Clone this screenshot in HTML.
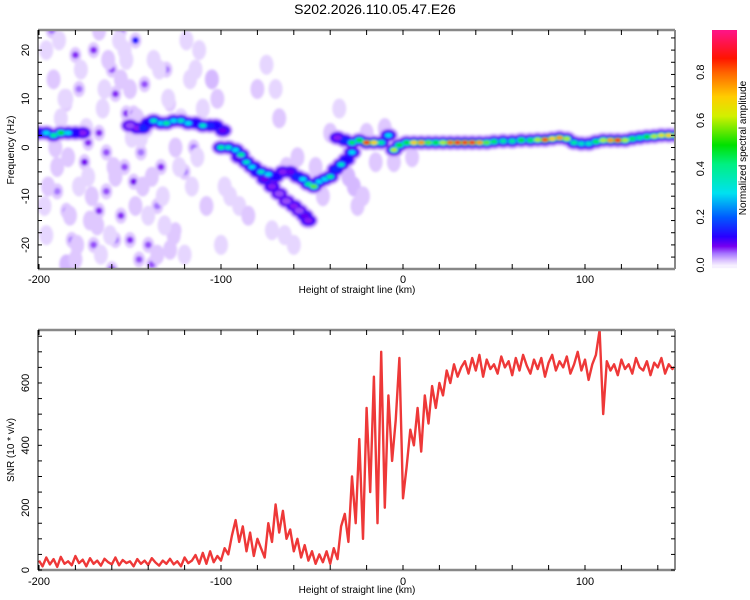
<!DOCTYPE html>
<html><head><meta charset="utf-8"><style>
body{margin:0;background:#fff;font-family:"Liberation Sans",sans-serif}
svg{display:block}
</style></head><body>
<svg id="fig" width="750" height="600" xmlns="http://www.w3.org/2000/svg" font-family="Liberation Sans, sans-serif">
<defs>
<filter id="blur" x="-20%" y="-20%" width="140%" height="140%"><feGaussianBlur stdDeviation="1.3"/></filter>
<clipPath id="clipTop"><rect x="38" y="30" width="637" height="239"/></clipPath>
<clipPath id="clipBot"><rect x="38" y="330" width="637" height="240"/></clipPath>
</defs>
<text x="375" y="14" font-size="14" text-anchor="middle">S202.2026.110.05.47.E26</text>
<g id="topPanel"></g>
<g id="botPanel"></g>
<g id="cbar"></g>
</svg>
<script>
// ---------- data ----------
const xTicks=[-200,-100,0,100];
const freqTicks=[-20,-10,0,10,20];
const snrTicks=[0,200,400,600];
const cbTicks=[0.0,0.2,0.4,0.6,0.8];
const snrStart=-200, snrStep=2;
const snrValues=[30,12,40,18,35,10,42,20,28,15,45,22,33,12,38,20,30,14,36,25,18,40,15,32,22,28,12,35,20,30,16,38,24,14,30,20,36,18,28,12,40,22,30,48,20,
55,20,60,25,45,
30,70,50,110,160,
90,140,60,120,45,100,70,40,
150,90,210,120,190,100,
130,60,100,40,80,30,60,20,50,
25,60,20,70,35,
140,180,90,
300,150,420,100,520,250,620,150,700,200,560,350,
480,680,230,
330,450,400,520,380,560,470,590,520,600,
560,640,600,660,620,
650,670,630,680,640,690,620,675,645,660,630,685,650,670,625,680,640,690,655,630,675,645,680,620,665,690,640,670,650,685,630,660,700,640,675,610,660,690,770,500,670,640,660,625,675,645,660,630,680,650,640,670,625,665,650,680,630,660,645,655];
const ridgeX=[-200,-196,-192,-188,-184,-180,-176,-150,-146,-143,-140,-137,-133,-130,-126,-122,-118,-114,-110,-106,-103,-99,
-100,-96,-92,-89,-86,-83,-80,-76,-72,-68,-64,-60,-57,-54,-52,
-90,-86,-82,-78,-74,-70,-66,-62,-58,-55,-52,-49,-46,-43,-40,-37,-34,-31,-28,
-36,-32,-28,-24,-20,-16,-12,-8,-5,-2,2,6,10,14,18,22,26,30,34,38,42,46,50,55,60,65,70,74,78,82,86,90,94,98,102,106,110,114,118,122,126,130,134,138,142,146,150];
const ridgeF=[3,3,2.5,3,3,3,3,4.5,4,4,5,5.5,5,5,5.5,5.5,5,5,4.5,4.5,4.5,3.5,
0,0,-0.5,-1.5,-3,-4,-5,-6.5,-8,-9.5,-11,-12,-13,-14,-15,
-2,-3,-4,-5,-5.5,-6,-5,-5,-6,-6.5,-7.5,-8,-7,-6.5,-6,-4.5,-3.5,-2.5,-1,
2,1.5,1,1.5,1,1,1,2.5,-0.5,0.5,1,1,1,1,1,1,1,1,1,1,1,1,1.2,1.3,1.3,1.5,1.5,1.6,1.6,1.8,2,1.8,1,0.8,0.8,1.2,1.5,1.5,1.5,1.5,1.8,2,2.2,2.3,2.5,2.5,2.5];
const ridgeA=[0.2,0.3,0.4,0.5,0.3,0.2,0.12,0.1,0.12,0.25,0.2,0.35,0.3,0.4,0.3,0.35,0.3,0.2,0.35,0.25,0.2,0.15,
0.4,0.35,0.3,0.4,0.35,0.3,0.2,0.15,0.12,0.1,0.1,0.12,0.1,0.15,0.12,
0.15,0.3,0.25,0.35,0.3,0.2,0.12,0.15,0.25,0.3,0.4,0.55,0.3,0.3,0.4,0.25,0.35,0.2,0.3,
0.12,0.25,0.45,0.5,0.85,0.7,0.4,0.3,0.6,0.5,0.5,0.7,0.75,0.55,0.5,0.6,0.8,0.88,0.85,0.88,0.75,0.55,0.45,0.4,0.4,0.5,0.45,0.6,0.82,0.7,0.75,0.6,0.4,0.35,0.35,0.45,0.6,0.75,0.85,0.6,0.45,0.4,0.5,0.6,0.65,0.7,0.6];
const noiseX=[-147,-185,-170,-180,-160,-158,-130,-175,-173,-163,-167,-148,-133,-167,-163,-155,-150,-145,-160,-140,-170,-185,-190,-153,-144,-152,-148,-128,-125,-135,-178,-193,-155,-142,-120,-115,-105,-182,-158,-138,-185,
-196,-192,-188,-184,-178,-172,-166,-162,-156,-150,-144,-138,-132,-126,-120,-114,-110,-196,-190,-186,-180,-174,-168,-164,-158,-152,-146,-140,-134,-128,-122,-116,-112,-195,-189,-183,-177,-171,-165,-159,-153,-147,-141,-135,-129,-123,-117,-197,-191,-185,-179,-173,-167,-161,-155,-149,-143,-137,-131,-125,-119,-113,
-75,-70,-68,-72,-60,-90,-100,-95,-65,-25,-27,-35,-40,-20,-10,-108,-102,-98,-85,-80,-64,-58,-48,-44,-30,-22,-15,-5,5];
const noiseF=[22,9,20,19,16,11,16,-3,1,-1,3,-7,-4,-13,-9,-14,-19,-23,-25,-20,-20,-13,-9,-4,-1,7,7,9,-17,-12,12,24,24,13,-5,0,14,-19,-19,-24,-24,
20,14,6,-2,-8,-15,-22,18,22,12,2,-6,-10,-18,-22,16,8,-18,-4,10,-23,4,-16,12,-6,18,6,-14,16,-21,6,-8,20,-8,22,-14,16,-10,8,-4,20,-12,4,-22,10,-4,14,-12,0,10,-20,-6,24,-18,14,2,-8,18,-16,0,22,-2,
17,12,6,-17,-20,-12,-20,-10,-18,-12,-8,8,3,3,4,-12,10,-8,-14,12,-4,-2,-4,-10,-6,-10,-3,-3,-2];
const noiseA=[0.13,0.06,0.07,0.07,0.06,0.07,0.05,0.08,0.07,0.06,0.07,0.08,0.07,0.07,0.06,0.07,0.07,0.06,0.07,0.06,0.06,0.05,0.05,0.06,0.05,0.07,0.06,0.05,0.05,0.05,0.05,0.05,0.06,0.06,0.05,0.05,0.04,0.05,0.05,0.06,0.04,
0.02,0.03,0.02,0.03,0.02,0.03,0.02,0.03,0.02,0.03,0.02,0.03,0.02,0.03,0.02,0.02,0.02,0.02,0.03,0.02,0.03,0.02,0.03,0.02,0.03,0.02,0.03,0.02,0.02,0.03,0.02,0.02,0.02,0.03,0.02,0.03,0.02,0.03,0.02,0.03,0.02,0.03,0.02,0.03,0.02,0.02,0.02,0.02,0.03,0.02,0.03,0.02,0.03,0.02,0.03,0.02,0.03,0.02,0.02,0.03,0.02,0.02,
0.02,0.02,0.03,0.02,0.02,0.02,0.02,0.02,0.02,0.03,0.04,0.02,0.03,0.03,0.03,0.03,0.03,0.02,0.03,0.03,0.03,0.03,0.03,0.03,0.04,0.03,0.03,0.03,0.03];
// ---------- helpers ----------
const NS='http://www.w3.org/2000/svg';
function mk(tag,attrs,parent){const e=document.createElementNS(NS,tag);for(const k in attrs)e.setAttribute(k,attrs[k]);if(parent)parent.appendChild(e);return e;}
const X0=38,X1=675;
const xScale=v=>39+(v+200)*1.82;
const fScale=v=>147.5-v*4.87;
const sScale=v=>570-v*0.3117;
const cbScale=v=>265-v*241;
const stops=[[0,[246,240,255]],[0.02,[220,196,255]],[0.05,[165,115,255]],[0.08,[118,0,240]],[0.12,[40,0,255]],[0.2,[0,90,255]],[0.3,[0,225,240]],[0.42,[0,240,130]],[0.5,[0,225,0]],[0.62,[210,240,0]],[0.7,[255,205,0]],[0.8,[255,100,0]],[0.86,[255,20,0]],[0.97,[255,20,130]]];
function cmap(a){a=Math.max(0,Math.min(0.97,a));for(let i=1;i<stops.length;i++){if(a<=stops[i][0]){const s0=stops[i-1],s1=stops[i];const t=(a-s0[0])/(s1[0]-s0[0]);const c=s0[1].map((v,j)=>Math.round(v+(s1[1][j]-v)*t));return `rgb(${c[0]},${c[1]},${c[2]})`;}}return 'rgb(255,20,130)';}
// ---------- top panel ----------
const topG=document.getElementById('topPanel');
const blobs=mk('g',{'clip-path':'url(#clipTop)',filter:'url(#blur)'},topG);


noiseX.forEach((x,i)=>{const a=noiseA[i];
  const e=mk('ellipse',{cx:xScale(x),cy:fScale(noiseF[i]),rx:a>0.04?6:7,ry:a>0.04?8:10,fill:cmap(a>0.04?0.018:a*0.6)},blobs);
  
  
  if(a>0.04){const c=mk('ellipse',{cx:xScale(x),cy:fScale(noiseF[i]),rx:3.5,ry:3.5,fill:cmap(a)},blobs);
  
  }
});
[[0.025,8],[0.08,6],[0.14,4.5]].forEach(([amp,r])=>{
  ridgeX.forEach((x,i)=>{const e=mk('ellipse',{cx:xScale(x),cy:fScale(ridgeF[i]),rx:r+2,ry:r,fill:cmap(Math.min(amp,ridgeA[i]))},blobs);
  
  });
});
const order=ridgeX.map((_,i)=>i).sort((a,b)=>ridgeA[a]-ridgeA[b]);
order.forEach(i=>{const a=ridgeA[i];
  const e=mk('ellipse',{cx:xScale(ridgeX[i]),cy:fScale(ridgeF[i]),rx:4.5,ry:3,fill:cmap(a*0.6)},blobs);
  
  
  if(a>0.25){const c=mk('ellipse',{cx:xScale(ridgeX[i]),cy:fScale(ridgeF[i]),rx:3.5,ry:2,fill:cmap(a)},blobs);
  
  }
});
function frame(g,y0,y1,minorVals,yScale){
  mk('line',{x1:X0,y1:y0,x2:X1,y2:y0,stroke:'#888',"stroke-width":2.5},g);
  mk('line',{x1:X0,y1:y1,x2:X1,y2:y1,stroke:'#888',"stroke-width":2.5},g);
  mk('line',{x1:X1,y1:y0,x2:X1,y2:y1,stroke:'#888',"stroke-width":2},g);
  mk('line',{x1:X0,y1:y0,x2:X0,y2:y1,stroke:'#000',"stroke-width":1},g);
  for(let v=-200;v<=140;v+=20){const x=xScale(v);
    mk('line',{x1:x,y1:y0,x2:x,y2:y0+5,stroke:'#000'},g);mk('line',{x1:x,y1:y1,x2:x,y2:y1-5,stroke:'#000'},g);}
  minorVals.forEach(v=>{const y=yScale(v);if(y<y0||y>y1)return;
    mk('line',{x1:X0,y1:y,x2:X0+4,y2:y,stroke:'#000'},g);mk('line',{x1:X1,y1:y,x2:X1-4,y2:y,stroke:'#000'},g);});
}
const fMinor=[];for(let v=-25;v<=25;v+=2.5)fMinor.push(v);
frame(topG,30,269,fMinor,fScale);
function xLabels(g,y,ly){xTicks.forEach(v=>{const t=mk('text',{x:xScale(v),y:y,'font-size':11,'text-anchor':'middle'},g);t.textContent=v;
  
  });
  const l=mk('text',{x:357,y:ly,'font-size':10,'text-anchor':'middle'},g);l.textContent='Height of straight line (km)';
  
  }
xLabels(topG,283,293);
freqTicks.forEach(v=>{const y=fScale(v);const t=mk('text',{x:29,y:y,'font-size':11,'text-anchor':'middle',transform:`rotate(-90 29 ${y})`},topG);t.textContent=v;
  
  });
const fy=mk('text',{x:14,y:150,'font-size':10,'text-anchor':'middle',transform:'rotate(-90 14 150)'},topG);fy.textContent='Frequency (Hz)';


// ---------- bottom panel ----------
const botG=document.getElementById('botPanel');
const pts=snrValues.map((v,i)=>`${xScale(snrStart+i*snrStep).toFixed(1)},${sScale(v).toFixed(1)}`).join(' ');
const gl=mk('g',{'clip-path':'url(#clipBot)'},botG);
const line=mk('polyline',{points:pts,fill:'none',stroke:'#ee3838','stroke-width':2.4,'stroke-linejoin':'round'},gl);


const sMinor=[];for(let v=0;v<=750;v+=50)sMinor.push(v);
frame(botG,330,570,sMinor,sScale);
xLabels(botG,585,593);
snrTicks.forEach(v=>{const y=sScale(v);const t=mk('text',{x:29,y:y,'font-size':11,'text-anchor':'middle',transform:`rotate(-90 29 ${y})`},botG);t.textContent=v;
  
  });
const sy=mk('text',{x:14,y:450,'font-size':10,'text-anchor':'middle',transform:'rotate(-90 14 450)'},botG);sy.textContent='SNR (10 * v/v)';


// ---------- colorbar ----------
const cb=document.getElementById('cbar');
for(let y=30;y<268;y++){const v=(265-y)/241;const r=mk('rect',{x:712,y:y,width:25,height:1.2,fill:cmap(v)},cb);
  
  }
cbTicks.forEach(v=>{const y=cbScale(v);const t=mk('text',{x:704,y:y,'font-size':11,'text-anchor':'middle',transform:`rotate(-90 704 ${y})`},cb);t.textContent=v.toFixed(1);
  
  });
const ct=mk('text',{x:746,y:148,'font-size':10,'text-anchor':'middle',transform:'rotate(-90 746 148)'},cb);ct.textContent='Normalized spectral amplitude';


</script>
</body></html>
